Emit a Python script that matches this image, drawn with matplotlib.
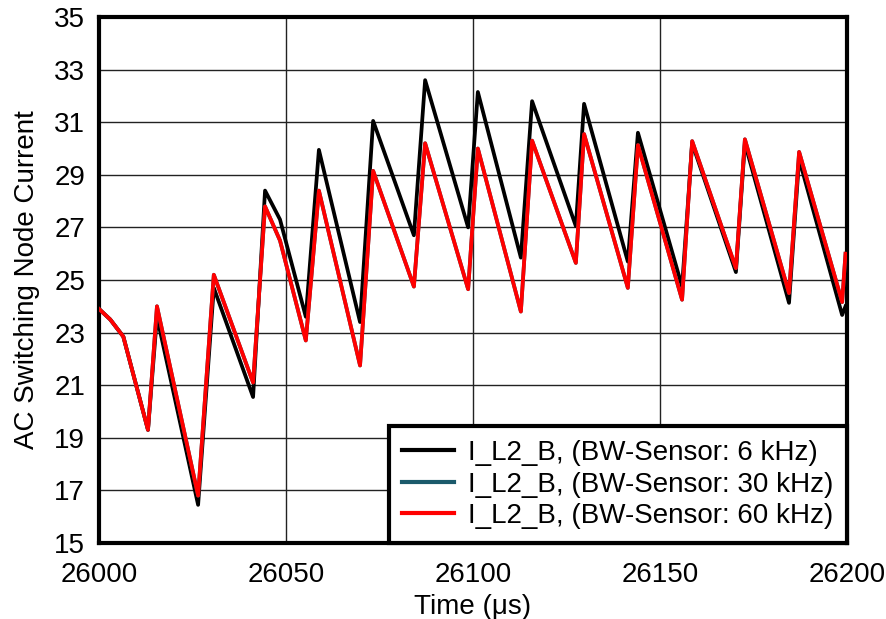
import matplotlib
matplotlib.use('Agg')
import matplotlib.pyplot as plt
import numpy as np

# time points (us) of the sawtooth corners
time = [26000, 26003.0, 26006.5, 26013.1, 26015.5, 26026.5, 26030.7, 26041.2, 26044.4, 26048.4,
        26055.3, 26058.8, 26069.8, 26073.3, 26084.2, 26087.2, 26098.7, 26101.3, 26112.8,
        26115.8, 26127.5, 26129.7, 26141.4, 26144.1, 26155.9, 26158.6, 26170.3, 26172.7,
        26184.5, 26187.2, 26198.7, 26199.6]

bw_6k = [23.9, 23.5, 22.85, 19.3, 23.6, 16.45, 24.7, 20.55, 28.4, 27.3,
         23.6, 29.95, 23.4, 31.05, 26.7, 32.6, 27.0, 32.15, 25.85,
         31.8, 27.05, 31.7, 25.7, 30.6, 24.75, 30.2, 25.3, 30.2,
         24.13, 29.6, 23.67, 24.0]

bw_30k = [23.9, 23.5, 22.85, 19.3, 24.0, 16.8, 25.2, 21.1, 27.8, 26.5,
          22.7, 28.4, 21.75, 29.15, 24.75, 30.2, 24.65, 30.0, 23.8,
          30.3, 25.65, 30.55, 24.7, 30.13, 24.25, 30.28, 25.45, 30.35,
          24.5, 29.87, 24.16, 26.0]

bw_60k = [23.9, 23.5, 22.85, 19.3, 24.0, 16.8, 25.2, 21.1, 27.8, 26.5,
          22.7, 28.4, 21.75, 29.15, 24.75, 30.2, 24.65, 30.0, 23.8,
          30.3, 25.65, 30.55, 24.7, 30.13, 24.25, 30.28, 25.45, 30.35,
          24.5, 29.87, 24.16, 26.0]

labels = ['I_L2_B, (BW-Sensor: 6 kHz)',
          'I_L2_B, (BW-Sensor: 30 kHz)',
          'I_L2_B, (BW-Sensor: 60 kHz)']
colors = ['#000000', '#1b5a6b', '#ff0000']

plt.rcParams.update({
    'font.family': ['Liberation Sans', 'DejaVu Sans'],
    'font.size': 20,
})

fig = plt.figure(figsize=(8.87, 6.19), dpi=100)
ax = fig.add_axes([0.1116, 0.1228, 0.8433, 0.8497])

for y, c, lab in zip([bw_6k, bw_30k, bw_60k], colors, labels):
    ax.plot(time, y, color=c, linewidth=2.7, label=lab, zorder=3)

ax.set_xlim(26000, 26200)
ax.set_ylim(15, 35)
ax.set_xticks(np.arange(26000, 26201, 50))
ax.set_yticks(np.arange(15, 36, 2))
ax.tick_params(axis='y', length=0, pad=10, labelsize=20)
ax.tick_params(axis='x', length=0, pad=14, labelsize=20)
ax.grid(True, color='#222222', linewidth=1.0, zorder=0)
for s in ax.spines.values():
    s.set_linewidth(3)

ax.set_xlabel('Time (μs)', fontsize=20, labelpad=4)
ax.set_ylabel('AC Switching Node Current', fontsize=20, labelpad=10)

leg = ax.legend(loc='lower right', borderaxespad=0, fancybox=False,
                framealpha=1, edgecolor='black', handlelength=1.85,
                handletextpad=0.5, labelspacing=0.2, fontsize=20, borderpad=0.5)
leg.get_frame().set_linewidth(3)
for h in leg.get_lines():
    h.set_linewidth(3)

fig.savefig('out.png', dpi=100)
